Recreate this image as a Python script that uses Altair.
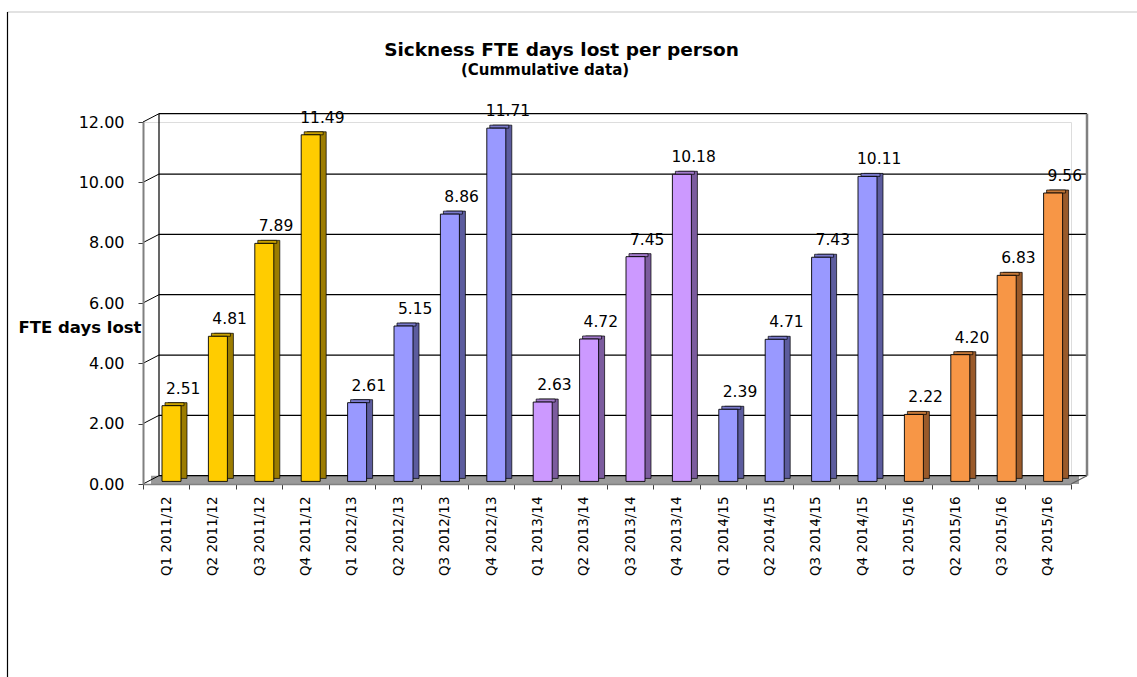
import altair as alt
import pandas as pd

# ---------------- data ----------------
quarters = [
    "Q1 2011/12", "Q2 2011/12", "Q3 2011/12", "Q4 2011/12",
    "Q1 2012/13", "Q2 2012/13", "Q3 2012/13", "Q4 2012/13",
    "Q1 2013/14", "Q2 2013/14", "Q3 2013/14", "Q4 2013/14",
    "Q1 2014/15", "Q2 2014/15", "Q3 2014/15", "Q4 2014/15",
    "Q1 2015/16", "Q2 2015/16", "Q3 2015/16", "Q4 2015/16",
]
values = [2.51, 4.81, 7.89, 11.49,
          2.61, 5.15, 8.86, 11.71,
          2.63, 4.72, 7.45, 10.18,
          2.39, 4.71, 7.43, 10.11,
          2.22, 4.20, 6.83, 9.56]
year_names = ["2011/12", "2012/13", "2013/14", "2014/15", "2015/16"]
front_colors = ["#FFCC00", "#9999FF", "#CC99FF", "#9999FF", "#F79646"]
top_colors = ["#C9A100", "#7A7ACC", "#A37ACC", "#7A7ACC", "#C57838"]
side_colors = ["#9C7C00", "#5C5C9E", "#7C5C9E", "#5C5C9E", "#9A5A2A"]
y_ticks = [0, 2, 4, 6, 8, 10, 12]
title_text = "Sickness FTE days lost per person"
subtitle_text = "(Cummulative data)"

df = pd.DataFrame({
    "quarter": quarters,
    "year": [q.split(" ")[1] for q in quarters],
    "value": values,
})
grid_df = pd.DataFrame({"tick": y_ticks})
wall_df = pd.DataFrame({"lo": [y_ticks[0]], "hi": [y_ticks[-1]]})

# ---------------- layout ----------------
W, H = 928, 362
DX, DY = 16, 8.3          # depth of the 3D box
BX, BY = 5.3, 2.6         # bar position inside the depth
SX, SY = 6, 3             # bar thickness (depth)
FONT = "DejaVu Sans"

yscale = alt.Scale(domain=[0, 12], nice=False, zero=True)
yaxis = alt.Axis(
    values=y_ticks, format=".2f", title="FTE days lost", grid=False,
    labelFont=FONT, labelFontSize=16, labelColor="black", labelPadding=14,
    tickSize=5, tickColor="#404040", domainColor="#808080", domainWidth=2,
    titleAngle=0, titleX=-125, titleY=205, titleAlign="left",
    titleBaseline="middle", titleFont=FONT, titleFontSize=16.5,
    titleFontWeight="bold", titleColor="black", zindex=1,
)
xaxis = alt.Axis(
    title=None, labelAngle=270, labelFont=FONT, labelFontSize=13.5,
    labelColor="black", labelPadding=7, tickBand="extent", tickSize=5,
    tickColor="#404040", domainColor="#808080", domainWidth=1.5, zindex=1,
)
xenc = alt.X("quarter:N", sort=quarters,
             scale=alt.Scale(paddingInner=0, paddingOuter=0), axis=xaxis)


def yenc(field):
    return alt.Y(f"{field}:Q", scale=yscale, axis=yaxis)


def color_enc(rng):
    return alt.Color("year:N", scale=alt.Scale(domain=year_names, range=rng),
                     legend=None)


base_grid = alt.Chart(grid_df)
base_wall = alt.Chart(wall_df)
bars = alt.Chart(df)

floor = base_wall.mark_rect(fill="#9A9A9A", y2Offset=-DY).encode(
    x=alt.value(DX / 2), x2=alt.value(W + DX / 2),
    y=yenc("lo"), y2=alt.Y2("lo"),
)
back_grid = base_grid.mark_rule(color="black", strokeWidth=1.2,
                                yOffset=-DY).encode(
    x=alt.value(DX), x2=alt.value(W + DX), y=yenc("tick"),
)
side_diag = base_grid.mark_rule(color="black", strokeWidth=1,
                                y2Offset=-DY).encode(
    x=alt.value(0), x2=alt.value(DX), y=yenc("tick"), y2=alt.Y2("tick"),
)
left_back = base_wall.mark_rule(color="black", strokeWidth=1.2,
                                yOffset=-DY, y2Offset=-DY).encode(
    x=alt.value(DX), y=yenc("lo"), y2=alt.Y2("hi"),
)
right_back = base_wall.mark_rule(color="#808080", strokeWidth=2.5,
                                 yOffset=-DY, y2Offset=-DY).encode(
    x=alt.value(W + DX), y=yenc("lo"), y2=alt.Y2("hi"),
)
right_floor = base_wall.mark_rule(color="#606060", strokeWidth=1.2,
                                  y2Offset=-DY).encode(
    x=alt.value(W), x2=alt.value(W + DX), y=yenc("lo"), y2=alt.Y2("lo"),
)
frame_top = base_wall.mark_rule(color="#D9D9D9", strokeWidth=1.5).encode(
    x=alt.value(-135.5), x2=alt.value(994), y=alt.value(-110),
)
frame_left = base_wall.mark_rule(color="black", strokeWidth=1.2).encode(
    x=alt.value(-135.5), y=alt.value(-110), y2=alt.value(H + 200),
)
title_mark = base_wall.mark_text(
    text=title_text, font=FONT, fontSize=18.5, fontWeight="bold",
    color="black", align="center", baseline="alphabetic",
).encode(x=alt.value(418.5), y=alt.value(-66.3))
subtitle_mark = base_wall.mark_text(
    text=subtitle_text, font=FONT, fontSize=15, fontWeight="bold",
    color="black", align="center", baseline="alphabetic",
).encode(x=alt.value(402), y=alt.value(-47.5))

bar_side = bars.mark_bar(size=19, xOffset=BX + SX, yOffset=-BY - SY,
                         y2Offset=-BY - SY, stroke="black",
                         strokeWidth=0.7).encode(
    x=xenc, y=yenc("value"), y2=alt.Y2("zero"),
    color=color_enc(side_colors),
).transform_calculate(zero="0")
bar_top = bars.mark_bar(size=19, xOffset=BX + SX / 2, yOffset=-BY - SY,
                        y2Offset=-BY, stroke="black",
                        strokeWidth=0.7).encode(
    x=xenc, y=yenc("value"), y2=alt.Y2("value"),
    color=color_enc(top_colors),
)
bar_front = bars.mark_bar(size=19, xOffset=BX, yOffset=-BY, y2Offset=-BY,
                          stroke="black", strokeWidth=0.9).encode(
    x=xenc, y=yenc("value"), y2=alt.Y2("zero"),
    color=color_enc(front_colors),
).transform_calculate(zero="0")
labels = bars.mark_text(xOffset=17, yOffset=-BY - 17, baseline="middle",
                        font=FONT, fontSize=15.5, color="black").encode(
    x=xenc, y=yenc("value"), text=alt.Text("value:Q", format=".2f"),
)

chart = alt.layer(
    frame_top, frame_left, title_mark, subtitle_mark, floor, back_grid,
    side_diag, left_back, right_back, right_floor,
    bar_side, bar_top, bar_front, labels,
).resolve_scale(color="independent").properties(
    width=W, height=H, autosize="none",
    padding={"left": 143, "top": 122, "right": 66, "bottom": 193},
).configure_view(stroke=None).configure(background="white")

chart.save("out.html", embed_options={"renderer": "svg", "actions": False})
